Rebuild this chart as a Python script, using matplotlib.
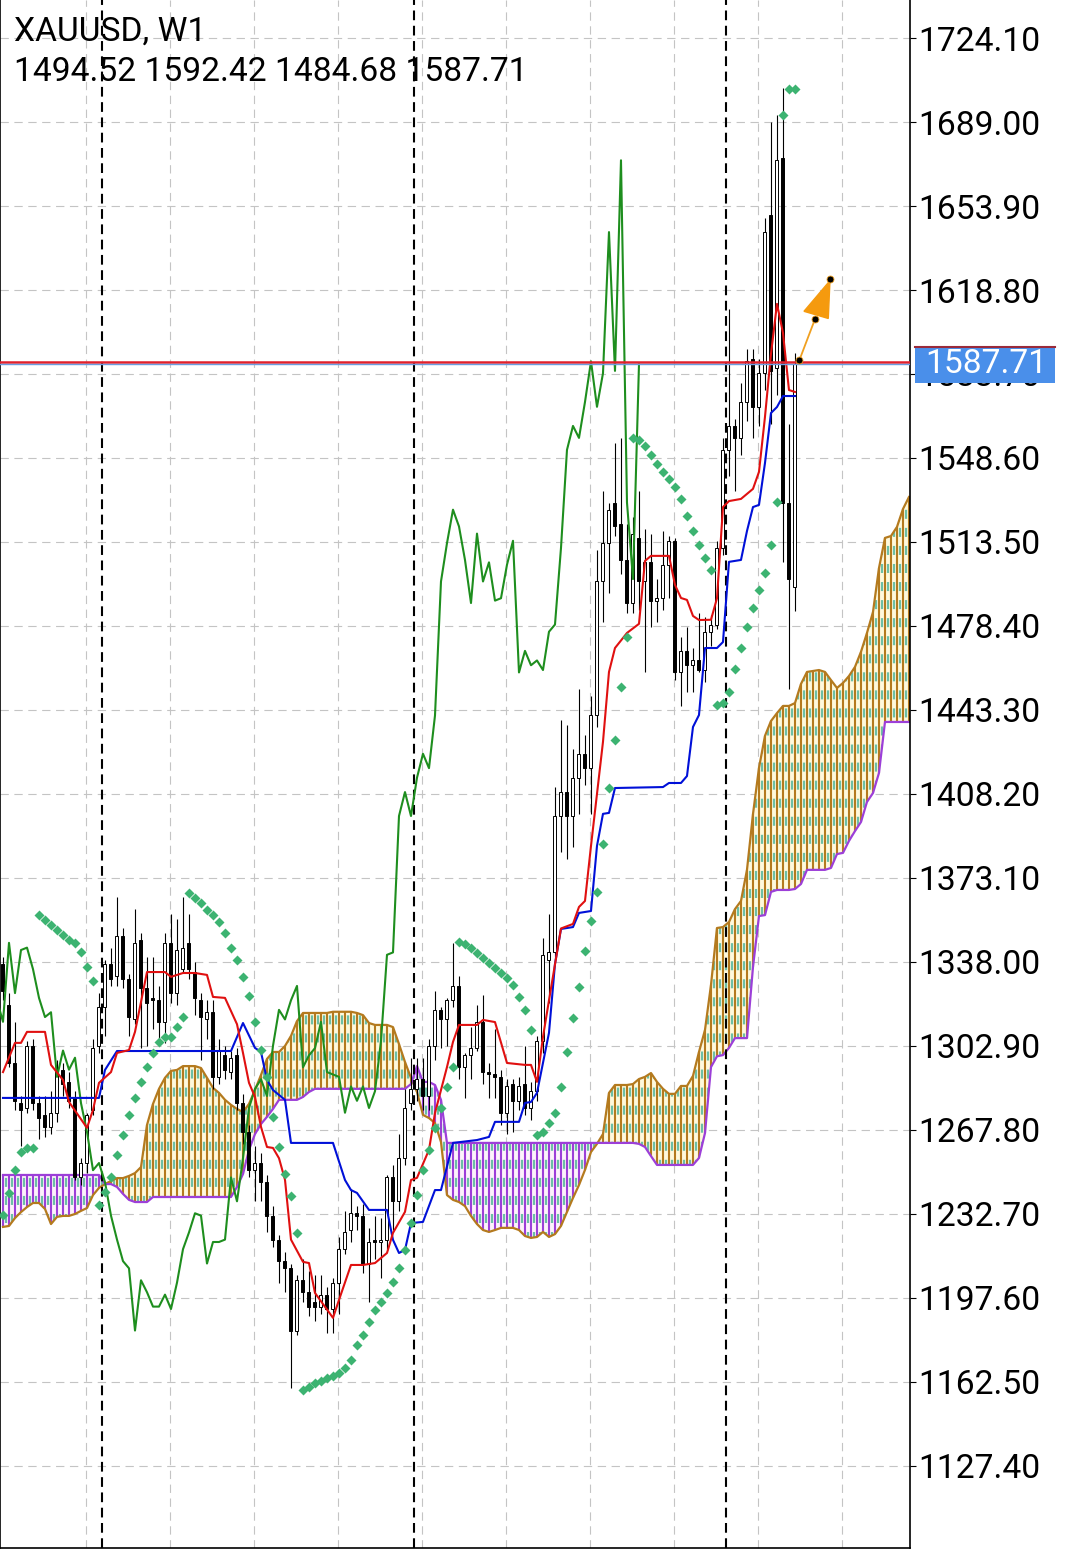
import numpy as np
import matplotlib
matplotlib.use("Agg")
import matplotlib.pyplot as plt
from matplotlib.patches import Rectangle, Polygon
from matplotlib.lines import Line2D
from matplotlib.transforms import blended_transform_factory

plt.rcParams['font.family'] = ['Roboto', 'DejaVu Sans']
plt.rcParams['lines.scale_dashes'] = False

# ---- weekly candles (bar 0 .. 132) ----
opens = [1337, 1320, 1296, 1279, 1277, 1303, 1279, 1274, 1269, 1275,
         1293, 1288, 1281, 1248, 1254, 1276, 1303, 1319, 1337, 1332,
         1349, 1331, 1314, 1347, 1327, 1323, 1322, 1313, 1346, 1325,
         1335, 1346, 1334, 1322, 1314, 1317, 1290, 1299, 1292, 1299,
         1279, 1267, 1251, 1254, 1246, 1232, 1222, 1213, 1210, 1184,
         1205, 1200, 1196, 1194, 1199, 1193, 1204, 1218, 1226, 1233,
         1232, 1212, 1222, 1221, 1222, 1248, 1238, 1256, 1279, 1285,
         1289, 1282, 1303, 1318, 1314, 1322, 1328, 1294, 1299, 1302,
         1313, 1292, 1291, 1290, 1275, 1287, 1280, 1287, 1277, 1284,
         1305, 1339, 1342, 1399, 1409, 1399, 1415, 1425, 1419, 1441,
         1497, 1513, 1530, 1521, 1506, 1488, 1515, 1497, 1505, 1489,
         1490, 1504, 1514, 1459, 1468, 1462, 1464, 1460, 1476, 1479,
         1511, 1552, 1562, 1557, 1572, 1590, 1570, 1584, 1650, 1586,
         1674, 1530, 1494.52]
highs = [1340, 1325, 1313, 1282, 1305, 1306, 1282, 1282, 1284, 1297,
         1296, 1292, 1284, 1256, 1275, 1306, 1325, 1339, 1344, 1365,
         1352, 1333, 1360, 1350, 1340, 1340, 1328, 1350, 1358, 1356,
         1365, 1358, 1338, 1325, 1322, 1322, 1306, 1303, 1301, 1302,
         1283, 1270, 1261, 1258, 1249, 1236, 1224, 1217, 1212, 1207,
         1214, 1209, 1207, 1207, 1202, 1206, 1223, 1234, 1243, 1236,
         1237, 1227, 1232, 1231, 1249, 1253, 1266, 1285, 1298, 1298,
         1298, 1306, 1326, 1319, 1323, 1346, 1332, 1300, 1311, 1320,
         1324, 1296, 1310, 1293, 1289, 1289, 1290, 1303, 1288, 1307,
         1348, 1358, 1411, 1439, 1437, 1427, 1452, 1433, 1449, 1510,
         1535, 1530, 1555, 1557, 1521, 1524, 1535, 1519, 1517, 1498,
         1518, 1516, 1515, 1474, 1478, 1469, 1484, 1482, 1483, 1514,
         1557, 1611, 1565, 1580, 1594, 1594, 1590, 1649, 1689, 1692,
         1703, 1563, 1592.42]
lows = [1322, 1294, 1276, 1261, 1275, 1276, 1264, 1265, 1266, 1271,
        1282, 1277, 1247, 1245, 1250, 1274, 1300, 1307, 1328, 1328,
        1327, 1307, 1312, 1302, 1303, 1310, 1304, 1304, 1321, 1320,
        1334, 1331, 1316, 1297, 1306, 1285, 1287, 1289, 1289, 1276,
        1262, 1248, 1238, 1238, 1225, 1219, 1204, 1200, 1160, 1182,
        1196, 1190, 1188, 1191, 1183, 1183, 1191, 1216, 1221, 1226,
        1208, 1196, 1214, 1206, 1218, 1226, 1234, 1253, 1276, 1280,
        1276, 1276, 1297, 1302, 1303, 1319, 1289, 1281, 1289, 1301,
        1287, 1281, 1281, 1270, 1266, 1267, 1276, 1274, 1272, 1280,
        1300, 1321, 1340, 1384, 1381, 1386, 1400, 1412, 1400, 1436,
        1480, 1492, 1516, 1500, 1484, 1484, 1485, 1459, 1478, 1480,
        1485, 1490, 1456, 1445, 1451, 1451, 1459, 1455, 1470, 1477,
        1508, 1541, 1535, 1550, 1564, 1557, 1562, 1577, 1563, 1575,
        1505, 1452, 1484.68]
closes = [1326, 1296, 1280, 1276, 1303, 1279, 1273, 1269, 1275, 1293,
          1287, 1280, 1248, 1254, 1274, 1302, 1319, 1337, 1331, 1349,
          1331, 1315, 1346, 1327, 1321, 1322, 1313, 1346, 1325, 1343,
          1344, 1335, 1323, 1315, 1317, 1290, 1301, 1293, 1298, 1279,
          1267, 1251, 1254, 1246, 1232, 1222, 1213, 1210, 1184, 1205,
          1200, 1194, 1194, 1199, 1193, 1204, 1218, 1225, 1233, 1232,
          1212, 1221, 1221, 1222, 1248, 1238, 1256, 1277, 1285, 1289,
          1282, 1303, 1318, 1314, 1322, 1328, 1294, 1299, 1302, 1313,
          1292, 1291, 1290, 1275, 1286, 1280, 1286, 1277, 1284, 1305,
          1341, 1342, 1399, 1409, 1399, 1415, 1425, 1419, 1441, 1497,
          1513, 1527, 1520, 1506, 1488, 1517, 1497, 1505, 1489, 1490,
          1504, 1514, 1459, 1468, 1462, 1464, 1460, 1476, 1479, 1511,
          1552, 1562, 1557, 1572, 1589, 1570, 1584, 1643, 1585, 1673,
          1530, 1498, 1587.71]

# ---- Ichimoku lines (bar, value) ----
tenkan_bars = [0, 2, 3, 4, 7, 8, 10, 11, 14, 15, 16, 18, 19, 21, 22, 24, 27, 28, 30, 32,
               34, 35, 37, 39, 40, 41, 42, 43, 44, 45, 46, 47, 48, 50, 51, 52, 55, 56, 58, 60,
               62, 64, 65, 67, 68, 69, 71, 72, 74, 75, 76, 79, 80, 82, 84, 87, 88, 89, 90, 91,
               92, 93, 95, 96, 97, 98, 100, 101, 102, 104, 106, 107, 108, 111, 112, 113, 114, 115, 116, 118,
               119, 120, 121, 123, 125, 126, 127, 128, 129, 130, 131, 132]
tenkan_vals = [1292.0, 1304.2, 1304.2, 1308.8, 1308.8, 1295.0, 1288.7, 1279.5, 1268.7, 1276.2,
               1287.5, 1292.0, 1300.0, 1301.2, 1308.8, 1333.8, 1333.8, 1331.8, 1333.4, 1333.4,
               1332.6, 1323.4, 1323.0, 1312.0, 1300.0, 1287.5, 1281.6, 1269.1, 1260.7, 1260.3,
               1256.0, 1247.0, 1222.0, 1212.7, 1212.2, 1199.7, 1189.3, 1196.8, 1211.4, 1211.4,
               1212.2, 1216.4, 1224.8, 1233.6, 1246.9, 1247.8, 1259.5, 1274.9, 1294.1, 1304.6,
               1311.7, 1311.7, 1313.8, 1312.9, 1295.8, 1295.0, 1295.0, 1287.9, 1306.7, 1322.0,
               1337.0, 1352.0, 1353.9, 1361.0, 1363.5, 1386.5, 1430.0, 1459.2, 1469.2, 1475.5,
               1479.3, 1505.6, 1507.7, 1507.7, 1495.6, 1490.1, 1489.3, 1482.6, 1480.9, 1481.0,
               1490.0, 1528.1, 1530.6, 1531.5, 1535.7, 1542.8, 1565.8, 1592.1, 1613.0, 1600.9,
               1577.0, 1576.2]
kijun_bars = [0, 16, 17, 19, 38, 40, 42, 43, 44, 45, 47, 48, 55, 57, 58, 59, 61, 64, 65, 66,
              67, 68, 70, 72, 73, 75, 79, 81, 82, 86, 87, 88, 89, 91, 92, 93, 95, 96, 98, 99,
              100, 101, 102, 110, 111, 113, 114, 115, 116, 117, 119, 120, 121, 123, 124, 125, 126, 127, 128, 129,
              130, 132]
kijun_vals = [1281.2, 1281.2, 1292.9, 1300.8, 1300.8, 1312.5, 1302.1, 1300.4, 1288.7, 1284.5,
              1280.4, 1262.4, 1262.4, 1246.9, 1242.7, 1241.5, 1234.4, 1234.4, 1221.9, 1216.4,
              1217.7, 1228.9, 1229.4, 1242.7, 1242.7, 1262.4, 1263.6, 1264.9, 1271.2, 1271.2,
              1279.1, 1279.5, 1283.3, 1308.4, 1337.2, 1351.8, 1352.6, 1358.5, 1359.3, 1386.5,
              1399.9, 1400.3, 1410.7, 1411.1, 1412.8, 1412.8, 1415.7, 1436.2, 1441.2, 1469.2,
              1469.2, 1471.7, 1505.2, 1506.0, 1518.1, 1528.1, 1529.0, 1546.5, 1567.4, 1569.9,
              1574.5, 1574.5]
chikou_shift = 26

# Senkou spans, one value per bar 0 .. 151 (already shifted forward)
span_a = [1227.3, 1227.7, 1231.0, 1233.5, 1235.6, 1237.3, 1237.3, 1234.8, 1228.5, 1231.5,
          1231.9, 1231.9, 1232.7, 1234.0, 1235.2, 1240.6, 1243.6, 1245.2, 1246.5, 1247.7,
          1247.7, 1248.6, 1249.8, 1252.3, 1269.9, 1278.7, 1285.0, 1289.6, 1292.5, 1292.9,
          1294.5, 1294.5, 1294.5, 1293.7, 1289.6, 1285.4, 1283.3, 1280.4, 1278.3, 1276.6,
          1275.3, 1278.7, 1284.5, 1290.8, 1297.5, 1300.4, 1300.4, 1302.9, 1307.1, 1313.3,
          1316.7, 1316.7, 1316.7, 1316.7, 1316.7, 1317.2, 1317.2, 1317.2, 1317.2, 1316.7,
          1315.8, 1312.5, 1311.7, 1311.7, 1311.7, 1310.8, 1303.7, 1296.2, 1289.6, 1283.7,
          1274.1, 1272.8, 1270.7, 1262.8, 1240.6, 1238.6, 1237.7, 1236.0, 1231.9, 1228.5,
          1226.0, 1225.2, 1226.0, 1226.9, 1226.9, 1226.9, 1226.0, 1223.5, 1222.7, 1223.1,
          1225.2, 1223.1, 1224.3, 1227.7, 1233.5, 1239.4, 1244.8, 1251.1, 1258.6, 1262.0,
          1266.1, 1283.3, 1286.6, 1286.6, 1286.6, 1287.0, 1289.1, 1290.0, 1291.6, 1287.9,
          1285.0, 1282.9, 1282.9, 1286.2, 1286.2, 1290.4, 1300.4, 1309.6, 1328.4, 1352.2,
          1352.6, 1354.7, 1360.1, 1363.5, 1376.5, 1399.8, 1419.1, 1432.5, 1438.7, 1442.0,
          1445.0, 1445.0, 1446.2, 1454.2, 1459.2, 1459.6, 1460.0, 1459.2, 1455.8, 1452.5,
          1454.6, 1457.5, 1461.3, 1467.6, 1475.5, 1484.2, 1502.6, 1515.2, 1516.0, 1519.8,
          1527.3, 1532.3]
span_b = [1249.0, 1249.0, 1249.0, 1249.0, 1249.0, 1249.0, 1249.0, 1249.0, 1249.0, 1249.0,
          1249.0, 1249.0, 1249.0, 1249.0, 1249.0, 1249.0, 1249.0, 1245.2, 1245.2, 1244.0,
          1241.1, 1238.6, 1237.7, 1237.7, 1237.7, 1239.8, 1239.8, 1239.8, 1239.8, 1239.8,
          1239.8, 1239.8, 1239.8, 1239.8, 1239.8, 1239.8, 1239.8, 1239.8, 1239.8, 1244.0,
          1249.4, 1259.5, 1266.1, 1270.3, 1273.3, 1276.6, 1280.4, 1280.4, 1280.4, 1280.4,
          1281.6, 1283.7, 1285.0, 1285.0, 1285.0, 1285.0, 1285.0, 1285.0, 1285.0, 1285.0,
          1285.0, 1285.0, 1285.0, 1285.0, 1285.0, 1285.0, 1285.0, 1285.0, 1287.0, 1294.5,
          1287.9, 1287.9, 1286.6, 1280.4, 1262.4, 1262.4, 1262.4, 1262.4, 1262.4, 1262.4,
          1262.4, 1262.4, 1262.4, 1262.4, 1262.4, 1262.4, 1262.4, 1262.4, 1262.4, 1262.4,
          1262.4, 1262.4, 1262.4, 1262.4, 1262.4, 1262.4, 1262.4, 1262.4, 1262.4, 1262.4,
          1262.4, 1262.4, 1262.4, 1262.4, 1262.4, 1262.4, 1262.0, 1260.7, 1256.9, 1253.2,
          1253.2, 1253.2, 1253.2, 1253.2, 1253.2, 1253.2, 1256.1, 1266.5, 1294.1, 1298.6,
          1299.1, 1302.1, 1306.2, 1306.2, 1306.2, 1335.9, 1357.2, 1357.6, 1367.3, 1368.1,
          1368.1, 1368.1, 1368.5, 1370.6, 1376.5, 1376.5, 1376.5, 1376.5, 1377.3, 1383.1,
          1383.6, 1388.6, 1392.7, 1396.5, 1404.9, 1408.6, 1417.0, 1438.3, 1438.3, 1438.3,
          1438.3, 1438.3]

# Parabolic SAR, one value per bar 0 .. 132
sar = [1232.3, 1241.5, 1251.1, 1258.6, 1260.3, 1260.3,
       1357.6, 1355.6, 1353.5, 1351.4, 1349.3, 1347.2, 1346.0, 1342.2, 1335.9, 1330.1,
       1236.5, 1241.9, 1248.2, 1257.4, 1265.7, 1274.1, 1281.2, 1287.9, 1294.1, 1300.0,
       1304.6, 1306.7, 1306.7, 1310.8, 1315.0,
       1366.8, 1364.7, 1362.6, 1359.7, 1357.6, 1354.7, 1350.1, 1343.8, 1338.8, 1331.7,
       1323.8, 1312.9, 1301.2, 1289.9, 1273.2, 1260.7, 1249.4, 1240.2, 1224.8,
       1159.2, 1160.4, 1162.1, 1162.9, 1164.2, 1165.0, 1166.3, 1168.4, 1171.7, 1178.0,
       1182.2, 1187.6, 1192.6, 1196.0, 1199.7, 1204.3, 1210.1, 1217.6, 1228.9, 1240.6,
       1251.1, 1259.4, 1268.6, 1277.0, 1285.8, 1294.1,
       1346.4, 1345.5, 1343.8, 1341.8, 1339.7, 1337.6, 1335.5, 1333.4, 1331.3, 1328.4,
       1323.4, 1317.9, 1309.6,
       1265.7, 1267.0, 1270.7, 1274.9, 1285.8, 1300.4, 1314.6, 1327.6, 1342.6, 1355.1,
       1367.3, 1387.3, 1410.7, 1430.8, 1452.9, 1473.8,
       1557.0, 1556.1, 1553.6, 1549.9, 1546.1, 1542.7, 1539.8, 1536.5, 1531.5, 1524.4,
       1518.1, 1512.2, 1506.8, 1501.8,
       1445.4, 1446.2, 1450.8, 1460.4, 1469.2, 1478.0, 1485.9, 1493.4, 1500.5, 1512.2,
       1530.2,
       1691.9, 1702.8, 1702.8]

# price scale labels, current price, drawn arrow
tick_prices = [1724.10, 1689.00, 1653.90, 1618.80, 1583.70, 1548.60, 1513.50, 1478.40,
               1443.30, 1408.20, 1373.10, 1338.00, 1302.90, 1267.80, 1232.70, 1197.60,
               1162.50, 1127.40]
last_price = 1587.71
ask_price = 1588.80
year_breaks = [16.5, 68.5, 120.5]
arrow_bars = [132.72, 135.33, 137.83]
arrow_prices = [1589.4, 1606.6, 1623.6]
head_bars = [133.5, 137.55, 137.83]
head_prices = [1609.9, 1606.9, 1622.7]

# ---------------- figure ----------------
W, H = 1076, 1552
FS = 24.2
fig = plt.figure(figsize=(W / 100, H / 100), dpi=100)
fig.patch.set_facecolor('white')
ax = fig.add_axes([0, 4 / H, 910 / W, 1548 / H])
ax.set_xlim(-0.5, 151.17)
ax.set_ylim(1093.13, 1739.98)
ylo, yhi = ax.get_ylim()

grid_col = '#C4C4C4'
for p in tick_prices:
    ax.axhline(p, color=grid_col, lw=0.8, ls=(0, (6, 4)), zorder=0.5)
for gb in np.arange(13.78, 151, 14):
    ax.axvline(gb, color=grid_col, lw=0.8, ls=(0, (6, 4)), zorder=0.5)

# cloud
brown = '#B47A1E'
purple = '#9C3FD8'
teal = '#6CBFA6'
cb = np.arange(len(span_a))
A = np.array(span_a)
B = np.array(span_b)
up = A >= B
ax.fill_between(cb, A, B, where=up, interpolate=True, color='#FFF9DC', lw=0, zorder=1)
ax.fill_between(cb, A, B, where=~up, interpolate=True, color='#FDF2FB', lw=0, zorder=1)
cloud_poly = Polygon(np.column_stack([np.r_[cb, cb[::-1]], np.r_[A, B[::-1]]]),
                     closed=True, facecolor='none', edgecolor='none', transform=ax.transData)
ax.add_patch(cloud_poly)
tl = ax.vlines(cb[:-1] + 0.5, ylo, yhi, colors=teal, lw=1.6,
               linestyles=[(0, (6.5, 6.5))], zorder=1.2)
tl.set_clip_path(cloud_poly)
ax.vlines(cb, np.minimum(A, B), np.maximum(A, B),
          colors=np.where(up, brown, purple), lw=1.5, zorder=1.3)
ax.plot(cb, A, color=brown, lw=1.6, zorder=1.4)
ax.plot(cb, B, color=purple, lw=1.6, zorder=1.4)

# period separators
for xb in year_breaks:
    ax.axvline(xb, color='black', lw=1.5, ls=(0, (7, 4)), zorder=1.6)

# candles
bars = np.arange(len(closes))
o = np.array(opens, float)
c = np.array(closes, float)
ax.vlines(bars, lows, highs, color='black', lw=0.8, zorder=3)
body = np.maximum(np.abs(c - o), 0.5)
ax.bar(bars, body, bottom=np.minimum(o, c), width=0.5,
       color=np.where(c >= o, 'white', 'black'), edgecolor='black', lw=0.7, zorder=3.1)

# ichimoku lines
ax.plot(bars - chikou_shift, c, color='#1E8E1E', lw=1.5, zorder=4)
ax.plot(kijun_bars, kijun_vals, color='#0010D8', lw=1.5, zorder=4.1)
ax.plot(tenkan_bars, tenkan_vals, color='#E01010', lw=1.5, zorder=4.2)

# parabolic SAR
ax.plot(bars, sar, 'D', ms=5.4, color='#3CB371', mec='none', zorder=5)

# price lines
ax.axhline(ask_price, color='#E3202B', lw=1.8, zorder=4.5)
ax.axhline(last_price, color='#6C9EE0', lw=1.0, zorder=4.5)

# drawn arrow
ax.plot(arrow_bars[:2], arrow_prices[:2], color='#F0A020', lw=1.3, zorder=6)
ax.add_patch(Polygon(np.column_stack([head_bars, head_prices]), closed=True,
                     facecolor='#F59A0E', edgecolor='#F59A0E', zorder=6))
ax.plot(arrow_bars, arrow_prices, 'o', ms=5, color='black', mec='#F0A020', mew=0.6, zorder=7)

# axes frame and price scale
ax.spines['top'].set_visible(False)
for s in ['left', 'right', 'bottom']:
    ax.spines[s].set_linewidth(1.2)
    ax.spines[s].set_color('black')
ax.set_xticks([])
ax.yaxis.tick_right()
ax.set_yticks(tick_prices)
ax.set_yticklabels(['%.2f' % p for p in tick_prices])
ax.tick_params(axis='y', direction='out', length=4.3, width=0.8, pad=1.5,
               labelsize=FS, colors='black')

# current price label on the scale (it covers the 1583.70 level, as in MT4)
bt = blended_transform_factory(fig.transFigure, ax.transData)
fig.add_artist(Rectangle((915 / W, last_price - 7.9), 140 / W, 15.6, transform=bt,
                         facecolor='#4A8FEA', edgecolor='none', zorder=10, clip_on=False))
fig.add_artist(Line2D([915 / W, 1055 / W], [last_price + 7.4] * 2, transform=bt,
                      color='#9A2A3A', lw=1.5, zorder=11))
fig.text(925 / W, last_price, '%.2f' % last_price, transform=bt, color='white',
         fontsize=FS, va='center', ha='left', zorder=12)

# header
fig.text(14 / W, 1 - 41 / H, 'XAUUSD, W1', fontsize=FS, va='baseline', ha='left', zorder=12)
fig.text(14 / W, 1 - 81 / H, '%.2f %.2f %.2f %.2f' % (opens[-1], highs[-1], lows[-1], closes[-1]),
         fontsize=FS, va='baseline', ha='left', zorder=12)

fig.savefig('out.png', dpi=100, facecolor='white')
